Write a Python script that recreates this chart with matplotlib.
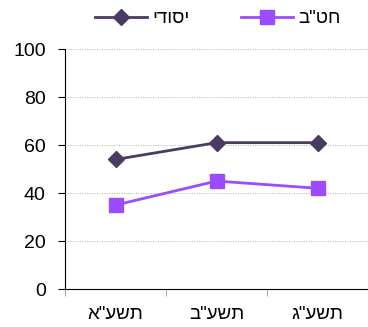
import matplotlib
matplotlib.use('Agg')
import matplotlib.pyplot as plt
from matplotlib.ticker import FixedLocator

plt.rcParams['font.family'] = ['Liberation Sans', 'DejaVu Sans']

# data (logical Hebrew strings; reversed for LTR drawing)
years = ['תשע"א', 'תשע"ב', 'תשע"ג']
yesodi = [54, 61, 61]
hativa = [35, 45, 42]
series_names = ['יסודי', 'חט"ב']

def vis(s):
    return s[::-1]

fig = plt.figure(figsize=(3.68, 3.27), dpi=100)
ax = fig.add_axes([0.177, 0.116, 0.823, 0.734])

x = list(range(len(years)))
ax.plot(x, yesodi, color='#4a3b63', lw=2, marker='D', markersize=8.5,
        label=vis(series_names[0]))
ax.plot(x, hativa, color='#9b4cff', lw=2, marker='s', markersize=9.5,
        label=vis(series_names[1]))

ax.set_xlim(-0.5, 2.5)
ax.set_ylim(0, 100)
ax.set_yticks([0, 20, 40, 60, 80, 100])
ax.set_xticks(x, [vis(y) for y in years])
ax.xaxis.set_minor_locator(FixedLocator([-0.5, 0.5, 1.5]))
ax.tick_params(axis='x', which='major', length=0, pad=12, labelsize=13.5)
ax.tick_params(axis='x', which='minor', length=5, color='#999999')
ax.tick_params(axis='y', length=5, labelsize=14, pad=9)

ax.grid(axis='y', color='#b0b0b0', linestyle=(0, (1, 1.5)), lw=0.7)
ax.set_axisbelow(True)
for s in ['top', 'right']:
    ax.spines[s].set_visible(False)

fig.legend(loc='upper center', bbox_to_anchor=(0.592, 1.02), ncol=2, frameon=False,
           fontsize=13.5, handlelength=2.8, columnspacing=2.7, handletextpad=0.3)

plt.savefig('out.png', dpi=100)
